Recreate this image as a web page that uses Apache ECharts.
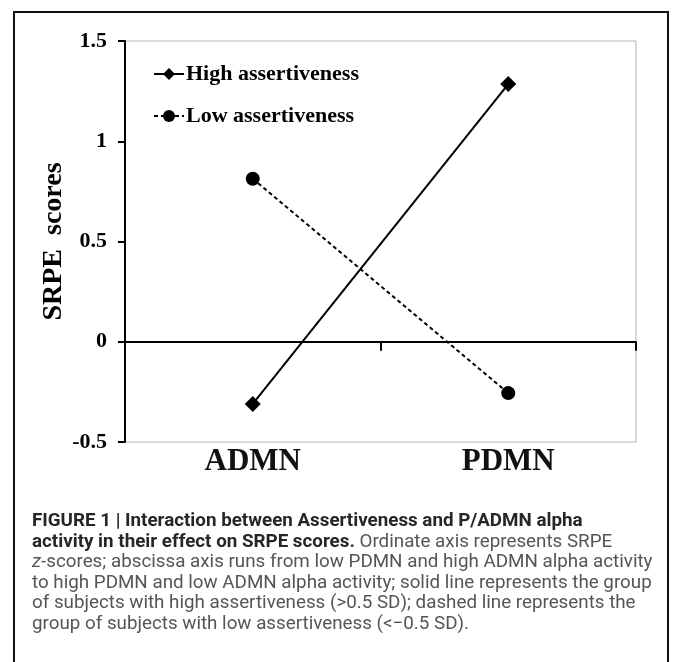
<!DOCTYPE html>
<html>
<head>
<meta charset="utf-8">
<script src="https://cdn.jsdelivr.net/npm/echarts@6/dist/echarts.min.js"></script>
<style>
  html, body { margin: 0; padding: 0; background: #fff; }
  #chart { width: 673px; height: 662px; }
</style>
</head>
<body>
<div id="chart"></div>
<script>
// data
const categories = ['ADMN', 'PDMN']
const highAssert = [-0.31, 1.285]
const lowAssert = [0.813, -0.256]
const yTicks = { min: -0.5, max: 1.5, interval: 0.5 }

const serif = '"Liberation Serif", "Times New Roman", serif'
const sans = 'Roboto, "Liberation Sans", Arial, sans-serif'

const captionLines = [
  '{b|FIGURE 1 | Interaction between Assertiveness and P/ADMN alpha}',
  '{b|activity in their effect on SRPE scores.}{n| Ordinate axis represents SRPE}',
  '{i|z}{n|-scores; abscissa axis runs from low PDMN and high ADMN alpha activity}',
  '{n|to high PDMN and low ADMN alpha activity; solid line represents the group}',
  '{n|of subjects with high assertiveness (>0.5 SD); dashed line represents the}',
  '{n|group of subjects with low assertiveness (<\u22120.5 SD).}'
]

const chart = echarts.init(document.getElementById('chart'))

const captionGraphics = captionLines.map((line, i) => ({
  type: 'text',
  left: 32,
  top: 512 + i * 20.5,
  style: {
    text: line,
    rich: {
      b: { fontFamily: sans, fontSize: 18.8, fontWeight: 'bold', fill: '#262626' },
      n: { fontFamily: sans, fontSize: 18.8, fill: '#555' },
      i: { fontFamily: sans, fontSize: 18.8, fontStyle: 'italic', fill: '#555' }
    }
  }
}))

chart.setOption({
  animation: false,
  backgroundColor: '#fff',
  graphic: [
    {
      type: 'rect',
      shape: { x: 14, y: 12, width: 654, height: 700 },
      style: { fill: 'none', stroke: '#111', lineWidth: 2 },
      silent: true
    }
  ].concat(captionGraphics),
  grid: {
    left: 125,
    right: 37,
    top: 41,
    bottom: 220,
    show: true,
    borderColor: '#b5b5b5',
    borderWidth: 1
  },
  legend: {
    orient: 'vertical',
    left: 148,
    top: 58,
    itemGap: 20,
    itemWidth: 30,
    itemHeight: 15,
    textStyle: { fontFamily: serif, fontSize: 22, fontWeight: 'bold', color: '#000', padding: [0, 0, 0, -3] },
    data: ['High assertiveness', 'Low assertiveness']
  },
  xAxis: [
    {
      type: 'category',
      data: categories,
      position: 'bottom',
      axisLine: { onZero: true, lineStyle: { color: '#000', width: 2 } },
      axisTick: { show: true, length: 9, lineStyle: { color: '#000', width: 2 } },
      axisLabel: { show: false }
    },
    {
      type: 'category',
      data: categories,
      position: 'bottom',
      axisLine: { onZero: false, show: false },
      axisTick: { show: false },
      axisLabel: {
        margin: 4,
        fontFamily: serif,
        fontSize: 31,
        fontWeight: 'bold',
        color: '#111'
      }
    }
  ],
  yAxis: {
    type: 'value',
    min: yTicks.min,
    max: yTicks.max,
    interval: yTicks.interval,
    name: 'SRPE  scores',
    nameLocation: 'middle',
    nameRotate: 90,
    nameGap: 57,
    nameMoveOverlap: false,
    nameTextStyle: { fontFamily: serif, fontSize: 28, fontWeight: 'bold', color: '#000' },
    axisLine: { show: true, lineStyle: { color: '#000', width: 2 } },
    axisTick: { show: true, length: 7, lineStyle: { color: '#000', width: 2 } },
    splitLine: { show: false },
    axisLabel: {
      margin: 18,
      fontFamily: serif,
      fontSize: 22,
      fontWeight: 'bold',
      color: '#000'
    }
  },
  series: [
    {
      name: 'High assertiveness',
      type: 'line',
      xAxisIndex: 0,
      data: highAssert,
      symbol: 'diamond',
      symbolSize: 16,
      itemStyle: { color: '#000' },
      lineStyle: { color: '#000', width: 2 }
    },
    {
      name: 'Low assertiveness',
      type: 'line',
      xAxisIndex: 0,
      data: lowAssert,
      symbol: 'circle',
      symbolSize: 14,
      itemStyle: { color: '#000' },
      lineStyle: { color: '#000', width: 2, type: [4, 3] }
    }
  ]
})
</script>
</body>
</html>
